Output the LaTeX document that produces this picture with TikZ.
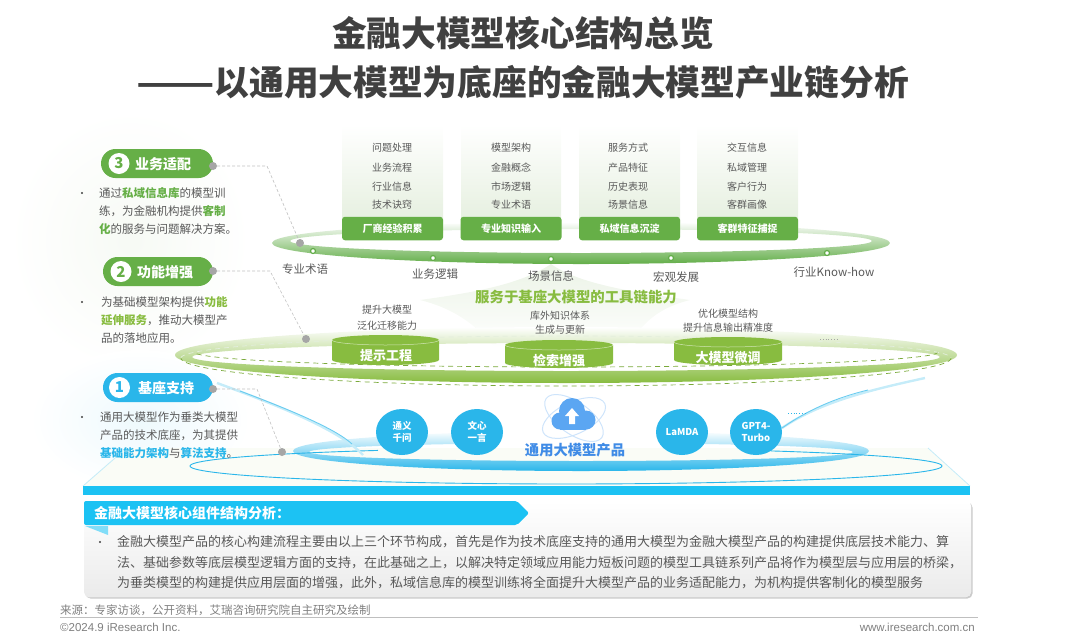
\documentclass[tikz,border=0pt]{standalone}
\usepackage{fontspec}
\setmainfont{Noto Sans CJK SC}
\newfontfamily\footfont{Liberation Sans}
\usepackage{tikz}
\usetikzlibrary{shapes.geometric,shadows}
\definecolor{titlegray}{HTML}{404040}
\definecolor{textgray}{HTML}{595959}
\definecolor{footgray}{HTML}{7F7F7F}
\definecolor{dotgray}{HTML}{A6A6A6}
\definecolor{leafgreen}{HTML}{66AF47}
\definecolor{ringgreen}{HTML}{62AD48}
\definecolor{palegreen}{HTML}{E3EEDC}
\definecolor{limegreen}{HTML}{88BC40}
\definecolor{skyblue}{HTML}{2AB6EA}
\definecolor{barblue}{HTML}{1CC2F3}
\definecolor{paleblue}{HTML}{C5ECF9}
\definecolor{cloudblue}{HTML}{5BA6F2}
\definecolor{labelblue}{HTML}{3F8BE6}
\definecolor{floortint}{HTML}{FAFCF6}
\newcommand{\fs}[1]{\fontsize{#1}{#1}\selectfont}
\tikzset{
	plaintext/.style={inner sep=0,text=textgray,font=\fs{10}},
	ringlabel/.style={inner sep=0,text=textgray,font=\fs{11.5}},
	headbox/.style={fill=leafgreen,rounded corners=3pt,minimum width=101,minimum height=23.5,inner sep=0,text=white,font=\bfseries\fs{10}},
	pill/.style={rounded corners=14.5pt,minimum height=29,inner sep=0},
	pilltext/.style={inner sep=0,text=white,font=\bfseries\fs{14}},
	numdisc/.style={circle,fill=white,minimum size=21,inner sep=0,font=\bfseries\fs{15}},
	bulletdot/.style={circle,fill=titlegray,minimum size=2.4,inner sep=0},
	sidetext/.style={anchor=west,inner sep=0,align=left,text=textgray,font=\fontsize{11.5}{18.2}\selectfont},
	graydot/.style={circle,fill=dotgray,minimum size=8,inner sep=0},
	ringdot/.style={circle,fill=white,draw=ringgreen,line width=1.2pt,minimum size=5,inner sep=0},
	calloutline/.style={draw=dotgray!70,densely dashed,line width=.6pt},
	drumtext/.style={inner sep=0,text=white,font=\bfseries\fs{13}},
	modelbubble/.style={ellipse,fill=skyblue,minimum width=52,minimum height=46,inner sep=0,align=center,text=white,font=\bfseries\fontsize{9.5}{12.5}\selectfont},
	paneltext/.style={anchor=west,inner sep=0,text=textgray,font=\fs{13}}
}
\begin{document}
\begin{tikzpicture}[x=1pt,y=-1pt]
	\useasboundingbox (0,0) rectangle (1080,641);
	
	\shade[inner color=palegreen!30,outer color=white] (130,240) ellipse [x radius=120,y radius=130];
	\shade[inner color=paleblue!30,outer color=white] (140,420) ellipse [x radius=110,y radius=70];
	
	\node[inner sep=0,text=titlegray,font=\bfseries\fs{34.7}] (titleone) at (523,33) {金融大模型核心结构总览};
	\node[inner sep=0,text=titlegray,font=\bfseries\fs{34.7}] (titletwo) at (522.5,82) {\scalebox{1.32}[1]{——}以通用大模型为底座的金融大模型产业链分析};
	
	\shade[top color=white,bottom color=palegreen] (342,125) rectangle (443,232);
	\shade[top color=white,bottom color=palegreen] (461,125) rectangle (561,232);
	\shade[top color=white,bottom color=palegreen] (579,125) rectangle (680,232);
	\shade[top color=white,bottom color=palegreen] (697,125) rectangle (798,232);
	
	\shade[top color=palegreen!70,bottom color=white] (551,264) .. controls (520,285) and (470,293) .. (420,300) .. controls (460,310) and (480,330) .. (495,348) -- (625,348) .. controls (640,330) and (650,310) .. (690,300) .. controls (640,293) and (580,285) .. (551,264) -- cycle;
	\shade[even odd rule,top color=white,middle color=ringgreen!60,bottom color=ringgreen] (581,243) ellipse [x radius=309,y radius=21] (581,241) ellipse [x radius=291,y radius=12];
	
	\node[plaintext] (ta) at (392,148) {问题处理};
	\node[plaintext] (tb) at (392,168) {业务流程};
	\node[plaintext] (tc) at (392,186.5) {行业信息};
	\node[plaintext] (td) at (392,205) {技术诀窍};
	\node[headbox] (heada) at (392.5,228.5) {厂商经验积累};
	
	\node[plaintext] (ua) at (511,148) {模型架构};
	\node[plaintext] (ub) at (511,168) {金融概念};
	\node[plaintext] (uc) at (511,186.5) {市场逻辑};
	\node[plaintext] (ud) at (511,205) {专业术语};
	\node[headbox] (headb) at (511,228.5) {专业知识输入};
	
	\node[plaintext] (va) at (628,148) {服务方式};
	\node[plaintext] (vb) at (628,168) {产品特征};
	\node[plaintext] (vc) at (628,186.5) {历史表现};
	\node[plaintext] (vd) at (628,205) {场景信息};
	\node[headbox] (headc) at (629.5,228.5) {私域信息沉淀};
	
	\node[plaintext] (wa) at (747,148) {交互信息};
	\node[plaintext] (wb) at (747,168) {私域管理};
	\node[plaintext] (wc) at (747,186.5) {客户行为};
	\node[plaintext] (wd) at (747,205) {客群画像};
	\node[headbox] (headd) at (747.5,228.5) {客群特征捕捉};
	
	\node[ringdot] (dota) at (313,251) {};
	\node[ringdot] (dotb) at (433,258) {};
	\node[ringdot] (dotc) at (551,259) {};
	\node[ringdot] (dotd) at (671,258) {};
	\node[ringdot] (dote) at (827,253) {};
	
	\node[ringlabel] (ringa) at (305,269) {专业术语};
	\node[ringlabel] (ringb) at (435,274) {业务逻辑};
	\node[ringlabel] (ringc) at (551,276) {场景信息};
	\node[ringlabel] (ringd) at (676,277.5) {宏观发展};
	\node[ringlabel] (ringe) at (834,272) {行业Know-how};
	
	\node[inner sep=0,text=limegreen,font=\bfseries\fs{14.4}] (chainlabel) at (576,297) {服务于基座大模型的工具链能力};
	
	\shade[even odd rule,top color=white,middle color=limegreen!60,bottom color=limegreen] (566,355) ellipse [x radius=391,y radius=28] (566,357) ellipse [x radius=374,y radius=14];
	\draw[draw=limegreen!90!black,dash pattern=on 5pt off 4pt,line width=.7pt] plot[domain=0:180,samples=90] ({566+372*cos(\x)},{352+15*sin(\x)});
	\draw[draw=limegreen!90!black,dash pattern=on 5pt off 4pt,line width=.7pt] plot[domain=0:180,samples=90] ({566+385*cos(\x)},{358+28*sin(\x)});
	\draw[draw=palegreen,dash pattern=on 5pt off 4pt,line width=.7pt] plot[domain=180:360,samples=90] ({566+385*cos(\x)},{358+22*sin(\x)});
	
	\fill[limegreen] (332,340) -- (332,360) arc [start angle=180,end angle=0,x radius=53.5,y radius=5] -- (439,340) arc [start angle=0,end angle=-180,x radius=53.5,y radius=5] -- cycle;
	\draw[white,opacity=.6,line width=.5pt] (332,340) arc [start angle=180,end angle=0,x radius=53.5,y radius=5];
	\fill[limegreen] (505,345) -- (505,363) arc [start angle=180,end angle=0,x radius=54,y radius=5] -- (613,345) arc [start angle=0,end angle=-180,x radius=54,y radius=5] -- cycle;
	\draw[white,opacity=.6,line width=.5pt] (505,345) arc [start angle=180,end angle=0,x radius=54,y radius=5];
	\fill[limegreen] (674,342) -- (674,360) arc [start angle=180,end angle=0,x radius=54,y radius=5] -- (782,342) arc [start angle=0,end angle=-180,x radius=54,y radius=5] -- cycle;
	\draw[white,opacity=.6,line width=.5pt] (674,342) arc [start angle=180,end angle=0,x radius=54,y radius=5];
	
	\node[drumtext] (drumb) at (386,356) {提示工程};
	\node[drumtext] (drumc) at (559,361) {检索增强};
	\node[drumtext] (drumd) at (728,358) {大模型微调};
	
	\node[plaintext] (ka) at (387,310) {提升大模型};
	\node[plaintext] (kb) at (387,326) {泛化迁移能力};
	\node[plaintext] (la) at (560,316) {库外知识体系};
	\node[plaintext] (lb) at (560,330) {生成与更新};
	\node[plaintext] (ma) at (728,314) {优化模型结构};
	\node[plaintext] (mb) at (728,328) {提升信息输出精准度};
	\draw[dotgray,dotted,line width=.8pt] (820,339) -- (838,339);
	
	\fill[floortint] (83,486) -- (125,448) -- (928,448) -- (970,486) -- cycle;
	\draw[paleblue,line width=.8pt] (83,486) -- (122,452);
	\draw[paleblue,line width=.8pt] (928,448) -- (970,486);
	\fill[barblue] (83,486) rectangle (970,495);
	
	\shade[even odd rule,top color=white,middle color=skyblue!70,bottom color=skyblue] (581,451) ellipse [x radius=288,y radius=20] (581,452) ellipse [x radius=272,y radius=9];
	\fill[white] (477,428) rectangle (682,446);
	\draw[skyblue,line width=.9pt] plot[domain=-57:240,samples=120] ({566+376*cos(\x)},{466+18*sin(\x)});
	
	\draw[paleblue,line width=2.4pt] (217,383) .. controls (277,405) and (340,430) .. (363,455);
	\draw[skyblue!70,line width=.9pt] (240,391) .. controls (285,408) and (335,428) .. (352,444);
	\draw[paleblue,line width=2.4pt] (782,428) .. controls (820,402) and (870,390) .. (925,378);
	\draw[skyblue!70,line width=.9pt] (782,428) .. controls (808,410) and (835,398) .. (868,390);
	\draw[skyblue,dotted,line width=.8pt] (788,413) -- (806,413);
	
	\node[modelbubble] (qwen) at (402,432) {通义\\千问};
	\node[modelbubble] (wenxin) at (477,432) {文心\\一言};
	\node[modelbubble] (lamda) at (682,432) {LaMDA};
	\node[modelbubble] (gptfour) at (756,432) {GPT4-\\Turbo};
	
	\draw[cloudblue!30,line width=1pt,rotate around={-35:(574,418)}] (574,418) ellipse [x radius=34,y radius=16];
	\draw[cloudblue!30,line width=1pt,rotate around={25:(574,418)}] (574,418) ellipse [x radius=34,y radius=16];
	\fill[cloudblue] (572,411) circle (13);
	\fill[cloudblue] (560,421) circle (8.5);
	\fill[cloudblue] (586,420) circle (9.5);
	\fill[cloudblue] (560,419) rectangle (586,429.5);
	\fill[white] (572,408) -- (579,416) -- (575,416) -- (575,424) -- (569,424) -- (569,416) -- (565,416) -- cycle;
	\node[inner sep=0,text=labelblue,font=\bfseries\fs{14.3}] (baselabel) at (575,450) {通用大模型产品};
	
	\node[pill,fill=leafgreen,minimum width=112] (pillc) at (157,163.5) {};
	\node[numdisc,text=leafgreen] (numc) at (119,163.5) {3};
	\node[pilltext] (pilltextc) at (163,164) {业务适配};
	\node[pill,fill=leafgreen,minimum width=110] (pillb) at (158,271.5) {};
	\node[numdisc,text=leafgreen] (numb) at (121,271.5) {2};
	\node[pilltext] (pilltextb) at (165,272) {功能增强};
	\node[pill,fill=skyblue,minimum width=110] (pilla) at (158,387.5) {};
	\node[numdisc,text=skyblue] (numa) at (119.5,387.5) {1};
	\node[pilltext] (pilltexta) at (166,388) {基座支持};
	
	\node[graydot] (linkc) at (213,166) {};
	\node[graydot] (ringlinkc) at (300,243) {};
	\coordinate (bendc) at (267,166);
	\draw[calloutline] (linkc) -- (bendc) -- (ringlinkc);
	\node[graydot] (linkb) at (213,271) {};
	\node[graydot] (ringlinkb) at (306,339) {};
	\coordinate (bendb) at (270,271);
	\draw[calloutline] (linkb) -- (bendb) -- (ringlinkb);
	\node[graydot] (linka) at (213,389) {};
	\node[graydot] (ringlinka) at (282,452) {};
	\coordinate (benda) at (257,389);
	\draw[calloutline] (linka) -- (benda) -- (ringlinka);
	
	\node[bulletdot] (bulletc) at (82,193) {};
	\node[sidetext] (sidec) at (99,211) {通过\textcolor{leafgreen}{\bfseries 私域信息库}的模型训\\练，为金融机构提供\textcolor{leafgreen}{\bfseries 客制}\\\textcolor{leafgreen}{\bfseries 化}的服务与问题解决方案。};
	\node[bulletdot] (bulletb) at (82,302) {};
	\node[sidetext] (sideb) at (101,320) {为基础模型架构提供\textcolor{limegreen}{\bfseries 功能}\\\textcolor{limegreen}{\bfseries 延伸服务}，推动大模型产\\品的落地应用。};
	\node[bulletdot] (bulleta) at (82,417) {};
	\node[sidetext] (sidea) at (100,435) {通用大模型作为垂类大模型\\产品的技术底座，为其提供\\\textcolor{skyblue}{\bfseries 基础能力架构}与\textcolor{skyblue}{\bfseries 算法支持}。};
	
	\fill[white,rounded corners=5pt,drop shadow={shadow xshift=1.5pt,shadow yshift=-1.5pt,opacity=.45,fill=black!45}] (84,501) rectangle (971,597);
	\shade[top color=white,bottom color=black!8,rounded corners=5pt] (84,501) rectangle (971,597);
	\fill[barblue,rounded corners=2pt] (84,525) -- (84,501) -- (517,501) -- (529,513) -- (517,525) -- cycle;
	\fill[barblue!55] (85,526) -- (108,526) -- (108,535) -- cycle;
	\node[anchor=west,inner sep=0,text=white,font=\bfseries\fs{14}] (panelhead) at (94,513) {金融大模型核心组件结构分析：};
	\node[bulletdot] (panelbullet) at (100,542) {};
	\node[paneltext] (panelone) at (117,542) {金融大模型产品的核心构建流程主要由以上三个环节构成，首先是作为技术底座支持的通用大模型为金融大模型产品的构建提供底层技术能力、算};
	\node[paneltext] (paneltwo) at (117,563) {法、基础参数等底层模型逻辑方面的支持，在此基础之上，以解决特定领域应用能力短板问题的模型工具链系列产品将作为模型层与应用层的桥梁，};
	\node[paneltext] (panelthree) at (117,583) {为垂类模型的构建提供应用层面的增强，此外，私域信息库的模型训练将全面提升大模型产品的业务适配能力，为机构提供客制化的模型服务};
	
	\node[anchor=west,inner sep=0,text=footgray,font=\fs{11.5}] (source) at (60,610) {来源：专家访谈，公开资料，艾瑞咨询研究院自主研究及绘制};
	\draw[black!25,line width=.8pt] (60,617) -- (978,617);
	\node[anchor=west,inner sep=0,text=footgray,font=\footfont\fs{11.5}] (copyright) at (60,627.5) {©2024.9 iResearch Inc.};
	\node[anchor=east,inner sep=0,text=footgray,font=\footfont\fs{11.5}] (website) at (975,627.5) {www.iresearch.com.cn};
\end{tikzpicture}
\end{document}
